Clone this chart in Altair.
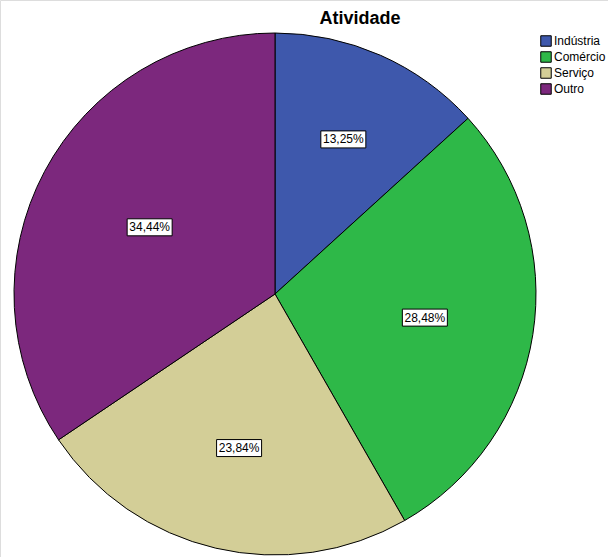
import altair as alt
import pandas as pd

categories = ["Indústria", "Comércio", "Serviço", "Outro"]
values = [13.25, 28.48, 23.84, 34.44]
colors = ["#3E58AC", "#2EB848", "#D3CE97", "#7C287D"]
labels = [f"{v:.2f}".replace(".", ",") + "%" for v in values]

df = pd.DataFrame({
    "cat": categories,
    "value": values,
    "label": labels,
    "order": list(range(len(categories))),
})

CX, CY, R = 275, 294, 261

base = (
    alt.Chart(df)
    .transform_joinaggregate(total="sum(value)")
    .transform_window(cum="sum(value)", sort=[alt.SortField("order")], frame=[None, 0])
    .transform_calculate(
        a0="(datum.cum - datum.value) / datum.total * 2 * PI",
        a1="datum.cum / datum.total * 2 * PI",
    )
    .transform_calculate(
        mid="(datum.a0 + datum.a1) / 2",
        span="datum.a1 - datum.a0",
    )
    .transform_calculate(
        rc=f"4 * {R} * sin(datum.span / 2) / (3 * datum.span)",
    )
    .transform_calculate(
        px=f"{CX} + datum.rc * sin(datum.mid)",
        py=f"{CY} - datum.rc * cos(datum.mid)",
    )
)

arcs = base.mark_arc(radius=R, stroke="black", strokeWidth=1).encode(
    theta=alt.Theta("value:Q", stack=True),
    order=alt.Order("order:Q"),
    color=alt.Color(
        "cat:N",
        scale=alt.Scale(domain=categories, range=colors),
        sort=categories,
        legend=alt.Legend(
            title=None,
            orient="none",
            legendX=540,
            legendY=35,
            symbolType="square",
            symbolSize=110,
            symbolStrokeColor="black",
            symbolStrokeWidth=1,
            symbolOpacity=1,
            labelFont="Liberation Sans",
            labelFontSize=12,
            labelColor="black",
            labelOffset=2,
            rowPadding=0,
            padding=0,
        ),
    ),
    x=alt.value(CX),
    y=alt.value(CY),
)

boxes = base.mark_point(
    shape="M-1,-0.378L1,-0.378L1,0.378L-1,0.378Z",
    size=2025,
    filled=True,
    fill="white",
    stroke="black",
    strokeWidth=1,
    opacity=1,
).encode(
    x=alt.X("px:Q", scale=None, axis=None),
    y=alt.Y("py:Q", scale=None, axis=None),
)

texts = base.mark_text(
    font="Liberation Sans",
    fontSize=12,
    color="black",
    align="center",
    baseline="middle",
).encode(
    x=alt.X("px:Q", scale=None, axis=None),
    y=alt.Y("py:Q", scale=None, axis=None),
    text="label:N",
)

chart = (
    alt.layer(arcs, boxes, texts)
    .properties(
        width=608,
        height=557,
        autosize=alt.AutoSizeParams(type="none"),
        padding=0,
        title=alt.Title(
            "Atividade",
            font="Liberation Sans",
            fontSize=18,
            fontWeight="bold",
            color="black",
            anchor="middle",
            dx=56,
            dy=32,
        ),
    )
    .configure_view(stroke=None)
    .configure(background="white")
)

chart.save("out.html", embed_options={"renderer": "svg", "actions": False})
